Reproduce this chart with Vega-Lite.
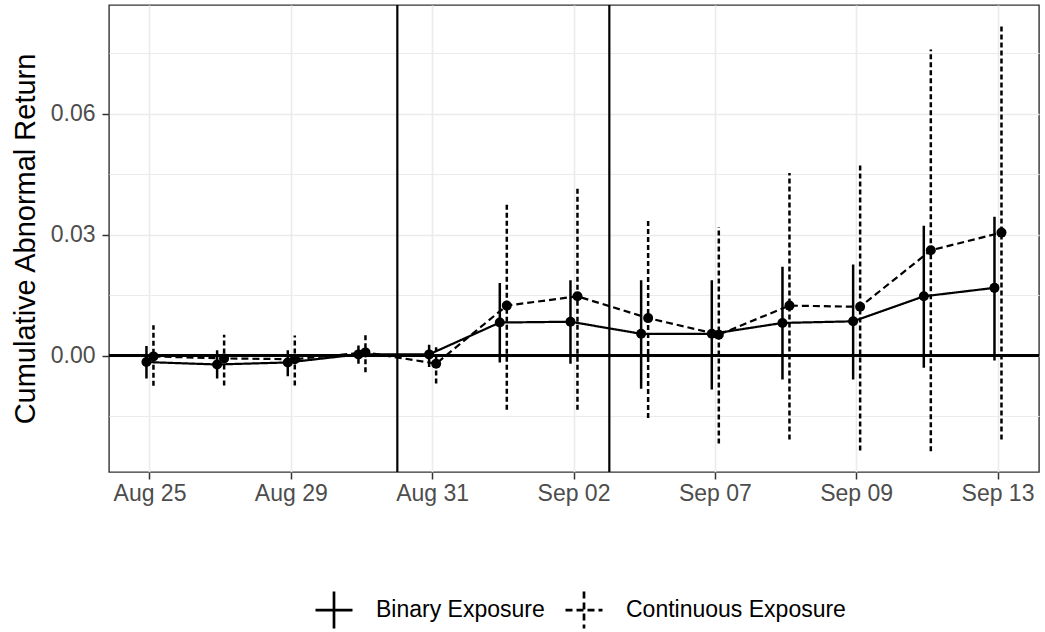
{
  "$schema": "https://vega.github.io/schema/vega-lite/v6.json",
  "width": 930,
  "height": 467,
  "autosize": {"type": "none"},
  "padding": {"left": 109, "top": 5, "right": 6, "bottom": 160},
  "background": "white",
  "config": {
    "font": "Liberation Sans",
    "view": {"stroke": "#333333", "strokeWidth": 1.4},
    "axis": {
      "domain": false,
      "tickColor": "#333333",
      "tickSize": 7,
      "tickWidth": 1.5,
      "labelColor": "#4d4d4d",
      "labelFontSize": 23,
      "labelFont": "Liberation Sans",
      "gridColor": "#ebebeb",
      "gridWidth": 1.6,
      "titleFont": "Liberation Sans",
      "titleFontWeight": "normal",
      "titleFontSize": 29,
      "titleColor": "black"
    },
    "legend": {
      "labelFont": "Liberation Sans",
      "labelFontSize": 23,
      "labelColor": "black",
      "labelLimit": 0
    }
  },
  "datasets": {
    "car": [
      {"date": "Aug 25", "series": "Binary Exposure", "est": -0.0016, "lo": -0.0057, "hi": 0.0024},
      {"date": "Aug 26", "series": "Binary Exposure", "est": -0.0022, "lo": -0.0057, "hi": 0.0013},
      {"date": "Aug 29", "series": "Binary Exposure", "est": -0.0017, "lo": -0.0051, "hi": 0.0013},
      {"date": "Aug 30", "series": "Binary Exposure", "est": 0.0003, "lo": -0.0020, "hi": 0.0025},
      {"date": "Aug 31", "series": "Binary Exposure", "est": 0.0003, "lo": -0.0028, "hi": 0.0027},
      {"date": "Sep 01", "series": "Binary Exposure", "est": 0.0082, "lo": -0.0017, "hi": 0.0180},
      {"date": "Sep 02", "series": "Binary Exposure", "est": 0.0084, "lo": -0.0020, "hi": 0.0187},
      {"date": "Sep 06", "series": "Binary Exposure", "est": 0.0054, "lo": -0.0082, "hi": 0.0187},
      {"date": "Sep 07", "series": "Binary Exposure", "est": 0.0054, "lo": -0.0084, "hi": 0.0187},
      {"date": "Sep 08", "series": "Binary Exposure", "est": 0.0081, "lo": -0.0059, "hi": 0.0220},
      {"date": "Sep 09", "series": "Binary Exposure", "est": 0.0085, "lo": -0.0059, "hi": 0.0226},
      {"date": "Sep 12", "series": "Binary Exposure", "est": 0.0147, "lo": -0.0030, "hi": 0.0322},
      {"date": "Sep 13", "series": "Binary Exposure", "est": 0.0168, "lo": -0.0012, "hi": 0.0344},
      {"date": "Aug 25", "series": "Continuous Exposure", "est": -0.0002, "lo": -0.0075, "hi": 0.0075},
      {"date": "Aug 26", "series": "Continuous Exposure", "est": -0.0007, "lo": -0.0074, "hi": 0.0052},
      {"date": "Aug 29", "series": "Continuous Exposure", "est": -0.0009, "lo": -0.0074, "hi": 0.0050},
      {"date": "Aug 30", "series": "Continuous Exposure", "est": 0.0008, "lo": -0.0041, "hi": 0.0056},
      {"date": "Aug 31", "series": "Continuous Exposure", "est": -0.0020, "lo": -0.0069, "hi": 0.0021},
      {"date": "Sep 01", "series": "Continuous Exposure", "est": 0.0124, "lo": -0.0134, "hi": 0.0378},
      {"date": "Sep 02", "series": "Continuous Exposure", "est": 0.0147, "lo": -0.0134, "hi": 0.0417},
      {"date": "Sep 06", "series": "Continuous Exposure", "est": 0.0093, "lo": -0.0155, "hi": 0.0340},
      {"date": "Sep 07", "series": "Continuous Exposure", "est": 0.0052, "lo": -0.0218, "hi": 0.0319},
      {"date": "Sep 08", "series": "Continuous Exposure", "est": 0.0124, "lo": -0.0208, "hi": 0.0453},
      {"date": "Sep 09", "series": "Continuous Exposure", "est": 0.0121, "lo": -0.0235, "hi": 0.0474},
      {"date": "Sep 12", "series": "Continuous Exposure", "est": 0.0261, "lo": -0.0237, "hi": 0.0759},
      {"date": "Sep 13", "series": "Continuous Exposure", "est": 0.0305, "lo": -0.0208, "hi": 0.0819}
    ],
    "events": [
      {"date": "Aug 31"},
      {"date": "Sep 06"}
    ]
  },
  "encoding": {
    "x": {
      "field": "date",
      "type": "ordinal",
      "title": null,
      "scale": {
        "type": "band",
        "domain": ["Aug 25", "Aug 26", "Aug 29", "Aug 30", "Aug 31", "Sep 01", "Sep 02", "Sep 06", "Sep 07", "Sep 08", "Sep 09", "Sep 12", "Sep 13"],
        "paddingInner": 0,
        "paddingOuter": 0.08
      },
      "axis": {
        "values": ["Aug 25", "Aug 29", "Aug 31", "Sep 02", "Sep 07", "Sep 09", "Sep 13"],
        "labelAngle": 0,
        "bandPosition": 0.5,
        "grid": true,
        "labelPadding": 3
      }
    }
  },
  "layer": [
    {
      "data": {"name": "events"},
      "mark": {"type": "rule", "color": "black", "strokeWidth": 2.2},
      "encoding": {
        "x": {"field": "date", "type": "ordinal", "bandPosition": 0}
      }
    },
    {
      "data": {"name": "car"},
      "layer": [
        {
          "mark": {"type": "rule", "color": "black", "strokeWidth": 2.5},
          "encoding": {
            "xOffset": {
              "field": "series",
              "type": "nominal",
              "scale": {"type": "point", "padding": 0, "domain": ["Binary Exposure", "Continuous Exposure"], "range": [31.8, 38.8]}
            },
            "y": {
              "field": "lo",
              "type": "quantitative",
              "title": "Cumulative Abnormal Return",
              "scale": {"domain": [-0.02886, 0.08693], "nice": false, "zero": false},
              "axis": {
                "values": [-0.015, 0, 0.015, 0.03, 0.045, 0.06, 0.075],
                "labelExpr": "abs(datum.value * 100 / 3 - round(datum.value * 100 / 3)) < 0.01 ? format(datum.value, '.2f') : ''",
                "tickOpacity": {
                  "condition": {"test": "abs(datum.value * 100 / 3 - round(datum.value * 100 / 3)) < 0.01", "value": 1},
                  "value": 0
                },
                "gridWidth": {
                  "condition": {"test": "abs(datum.value * 100 / 3 - round(datum.value * 100 / 3)) < 0.01", "value": 1.6},
                  "value": 1.1
                },
                "grid": true,
                "labelPadding": 7,
                "titlePadding": 10
              }
            },
            "y2": {"field": "hi"},
            "strokeDash": {
              "condition": {"test": "datum.series === 'Continuous Exposure'", "value": [5, 3]},
              "value": [1, 0]
            }
          }
        },
        {
          "mark": {"type": "rule", "color": "black", "strokeWidth": 2.2},
          "encoding": {
            "y": {"datum": 0, "type": "quantitative", "title": "Cumulative Abnormal Return"},
            "x": null
          }
        },
        {
          "mark": {"type": "line", "color": "black", "strokeWidth": 2.2},
          "encoding": {
            "xOffset": {
              "field": "series",
              "type": "nominal",
              "scale": {"type": "point", "padding": 0, "domain": ["Binary Exposure", "Continuous Exposure"], "range": [31.8, 38.8]}
            },
            "y": {"field": "est", "type": "quantitative", "title": "Cumulative Abnormal Return"},
            "detail": {"field": "series"},
            "strokeDash": {
              "field": "series",
              "type": "nominal",
              "scale": {"domain": ["Binary Exposure", "Continuous Exposure"], "range": [[1, 0], [7, 4]]},
              "legend": {
                "title": null,
                "orient": "none",
                "direction": "horizontal",
                "legendX": 205,
                "legendY": 585,
                "symbolType": "M-1,0H1M0,-1V1",
                "symbolSize": 1369,
                "symbolStrokeWidth": 2.7,
                "symbolStrokeColor": "black",
                "symbolFillColor": "transparent",
                "labelOffset": 22,
                "columnPadding": 15
              }
            }
          }
        },
        {
          "mark": {"type": "point", "filled": true, "color": "black", "size": 100, "opacity": 1},
          "encoding": {
            "xOffset": {
              "field": "series",
              "type": "nominal",
              "scale": {"type": "point", "padding": 0, "domain": ["Binary Exposure", "Continuous Exposure"], "range": [31.8, 38.8]}
            },
            "y": {"field": "est", "type": "quantitative", "title": "Cumulative Abnormal Return"}
          }
        }
      ]
    }
  ]
}
